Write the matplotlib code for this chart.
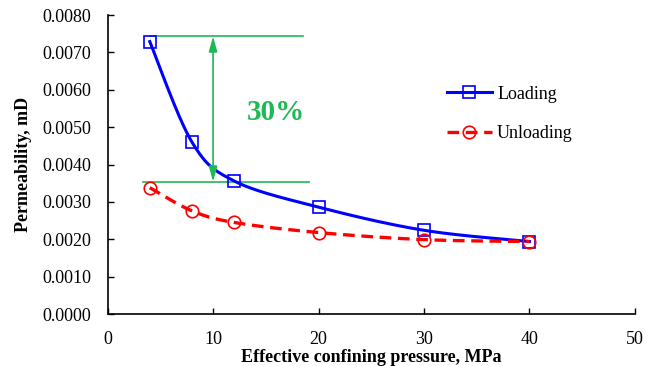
import numpy as np
import matplotlib
matplotlib.use('Agg')
import matplotlib.pyplot as plt

# Values
pressure = [4, 8, 12, 20, 30, 40]
loading = [0.00729, 0.00460, 0.00356, 0.00286, 0.00224, 0.00194]
unloading = [0.00338, 0.00276, 0.00245, 0.00218, 0.00199, 0.00194]
y_ticks = [0.0, 0.001, 0.002, 0.003, 0.004, 0.005, 0.006, 0.007, 0.008]
x_ticks = [0, 10, 20, 30, 40, 50]

green = '#1db954'


def smooth(x, y, n=30):
    # Catmull-Rom style smoothing, like a spreadsheet "smoothed line"
    x = np.asarray(x, float)
    y = np.asarray(y, float)
    px = np.concatenate([[x[0]], x, [x[-1]]])
    py = np.concatenate([[y[0]], y, [y[-1]]])
    xs, ys = [], []
    t = np.linspace(0, 1, n)
    for i in range(1, len(px) - 2):
        p0, p1, p2, p3 = (np.array([px[j], py[j]]) for j in range(i - 1, i + 3))
        c1 = p1 + (p2 - p0) / 6
        c2 = p2 - (p3 - p1) / 6
        seg = ((1 - t)[:, None] ** 3 * p1 + 3 * ((1 - t) ** 2 * t)[:, None] * c1
               + 3 * ((1 - t) * t ** 2)[:, None] * c2 + (t ** 3)[:, None] * p2)
        xs.extend(seg[:, 0])
        ys.extend(seg[:, 1])
    return xs, ys


plt.rcParams['font.family'] = ['Liberation Serif', 'DejaVu Serif']

fig = plt.figure(figsize=(6.6, 3.66), dpi=100)
ax = fig.add_axes([0.163, 0.142, 0.799, 0.817])

sx, sy = smooth(pressure, loading)
ax.plot(sx, sy, color='blue', lw=2.2, zorder=3)
ax.plot(pressure, loading, ls='none', marker='s', ms=9, mfc='none', mec='blue',
        mew=1.2, zorder=4)
ux, uy = smooth(pressure, unloading)
ax.plot(ux, uy, color='red', lw=2.4, ls=(0, (3.5, 2)), zorder=3)
ax.plot(pressure, unloading, ls='none', marker='o', ms=9, mfc='none', mec='red',
        mew=1.2, zorder=4)

# legend entries
ax.plot([], [], color='blue', lw=2.2, marker='s', ms=9, mfc='none', mec='blue',
        mew=1.2, label='Loading')
ax.plot([], [], color='red', lw=2.4, ls=(0, (3.5, 2)), marker='o', ms=9,
        mfc='none', mec='red', mew=1.2, label='Unloading')
ax.legend(loc='upper left', bbox_to_anchor=(0.612, 0.818), frameon=False,
          fontsize=13, handlelength=2.5, labelspacing=1.25, handletextpad=0.3)

# 30% annotation
ax.plot([4, 18.5], [0.00743, 0.00743], color=green, lw=1.2, zorder=2)
ax.plot([3.4, 19.1], [0.00354, 0.00354], color=green, lw=1.2, zorder=2)
ax.annotate('', xy=(10, 0.00743), xytext=(10, 0.00354),
            arrowprops=dict(arrowstyle='<|-|>,head_length=0.9,head_width=0.25',
                            color=green, lw=1.2, shrinkA=0, shrinkB=0))
ax.text(16.0, 0.0054, '30%', color=green, fontsize=21, fontweight='bold',
        ha='center', va='center')

ax.set_xlim(0, 50)
ax.set_ylim(0, 0.008)
ax.set_xticks(x_ticks)
ax.set_yticks(y_ticks)
ax.set_yticklabels([f'{v:.4f}' for v in y_ticks])
ax.tick_params(direction='in', length=4, labelsize=13, width=1)
ax.tick_params(axis='x', pad=12)
ax.tick_params(axis='y', pad=12)
ax.spines['top'].set_visible(False)
ax.spines['right'].set_visible(False)
ax.spines['left'].set_linewidth(1.2)
ax.spines['bottom'].set_linewidth(1.2)
ax.set_xlabel('Effective confining pressure, MPa', fontsize=13, fontweight='bold',
              labelpad=1)
ax.set_ylabel('Permeability, mD', fontsize=13, fontweight='bold', labelpad=7)

fig.savefig('out.png', dpi=100)
